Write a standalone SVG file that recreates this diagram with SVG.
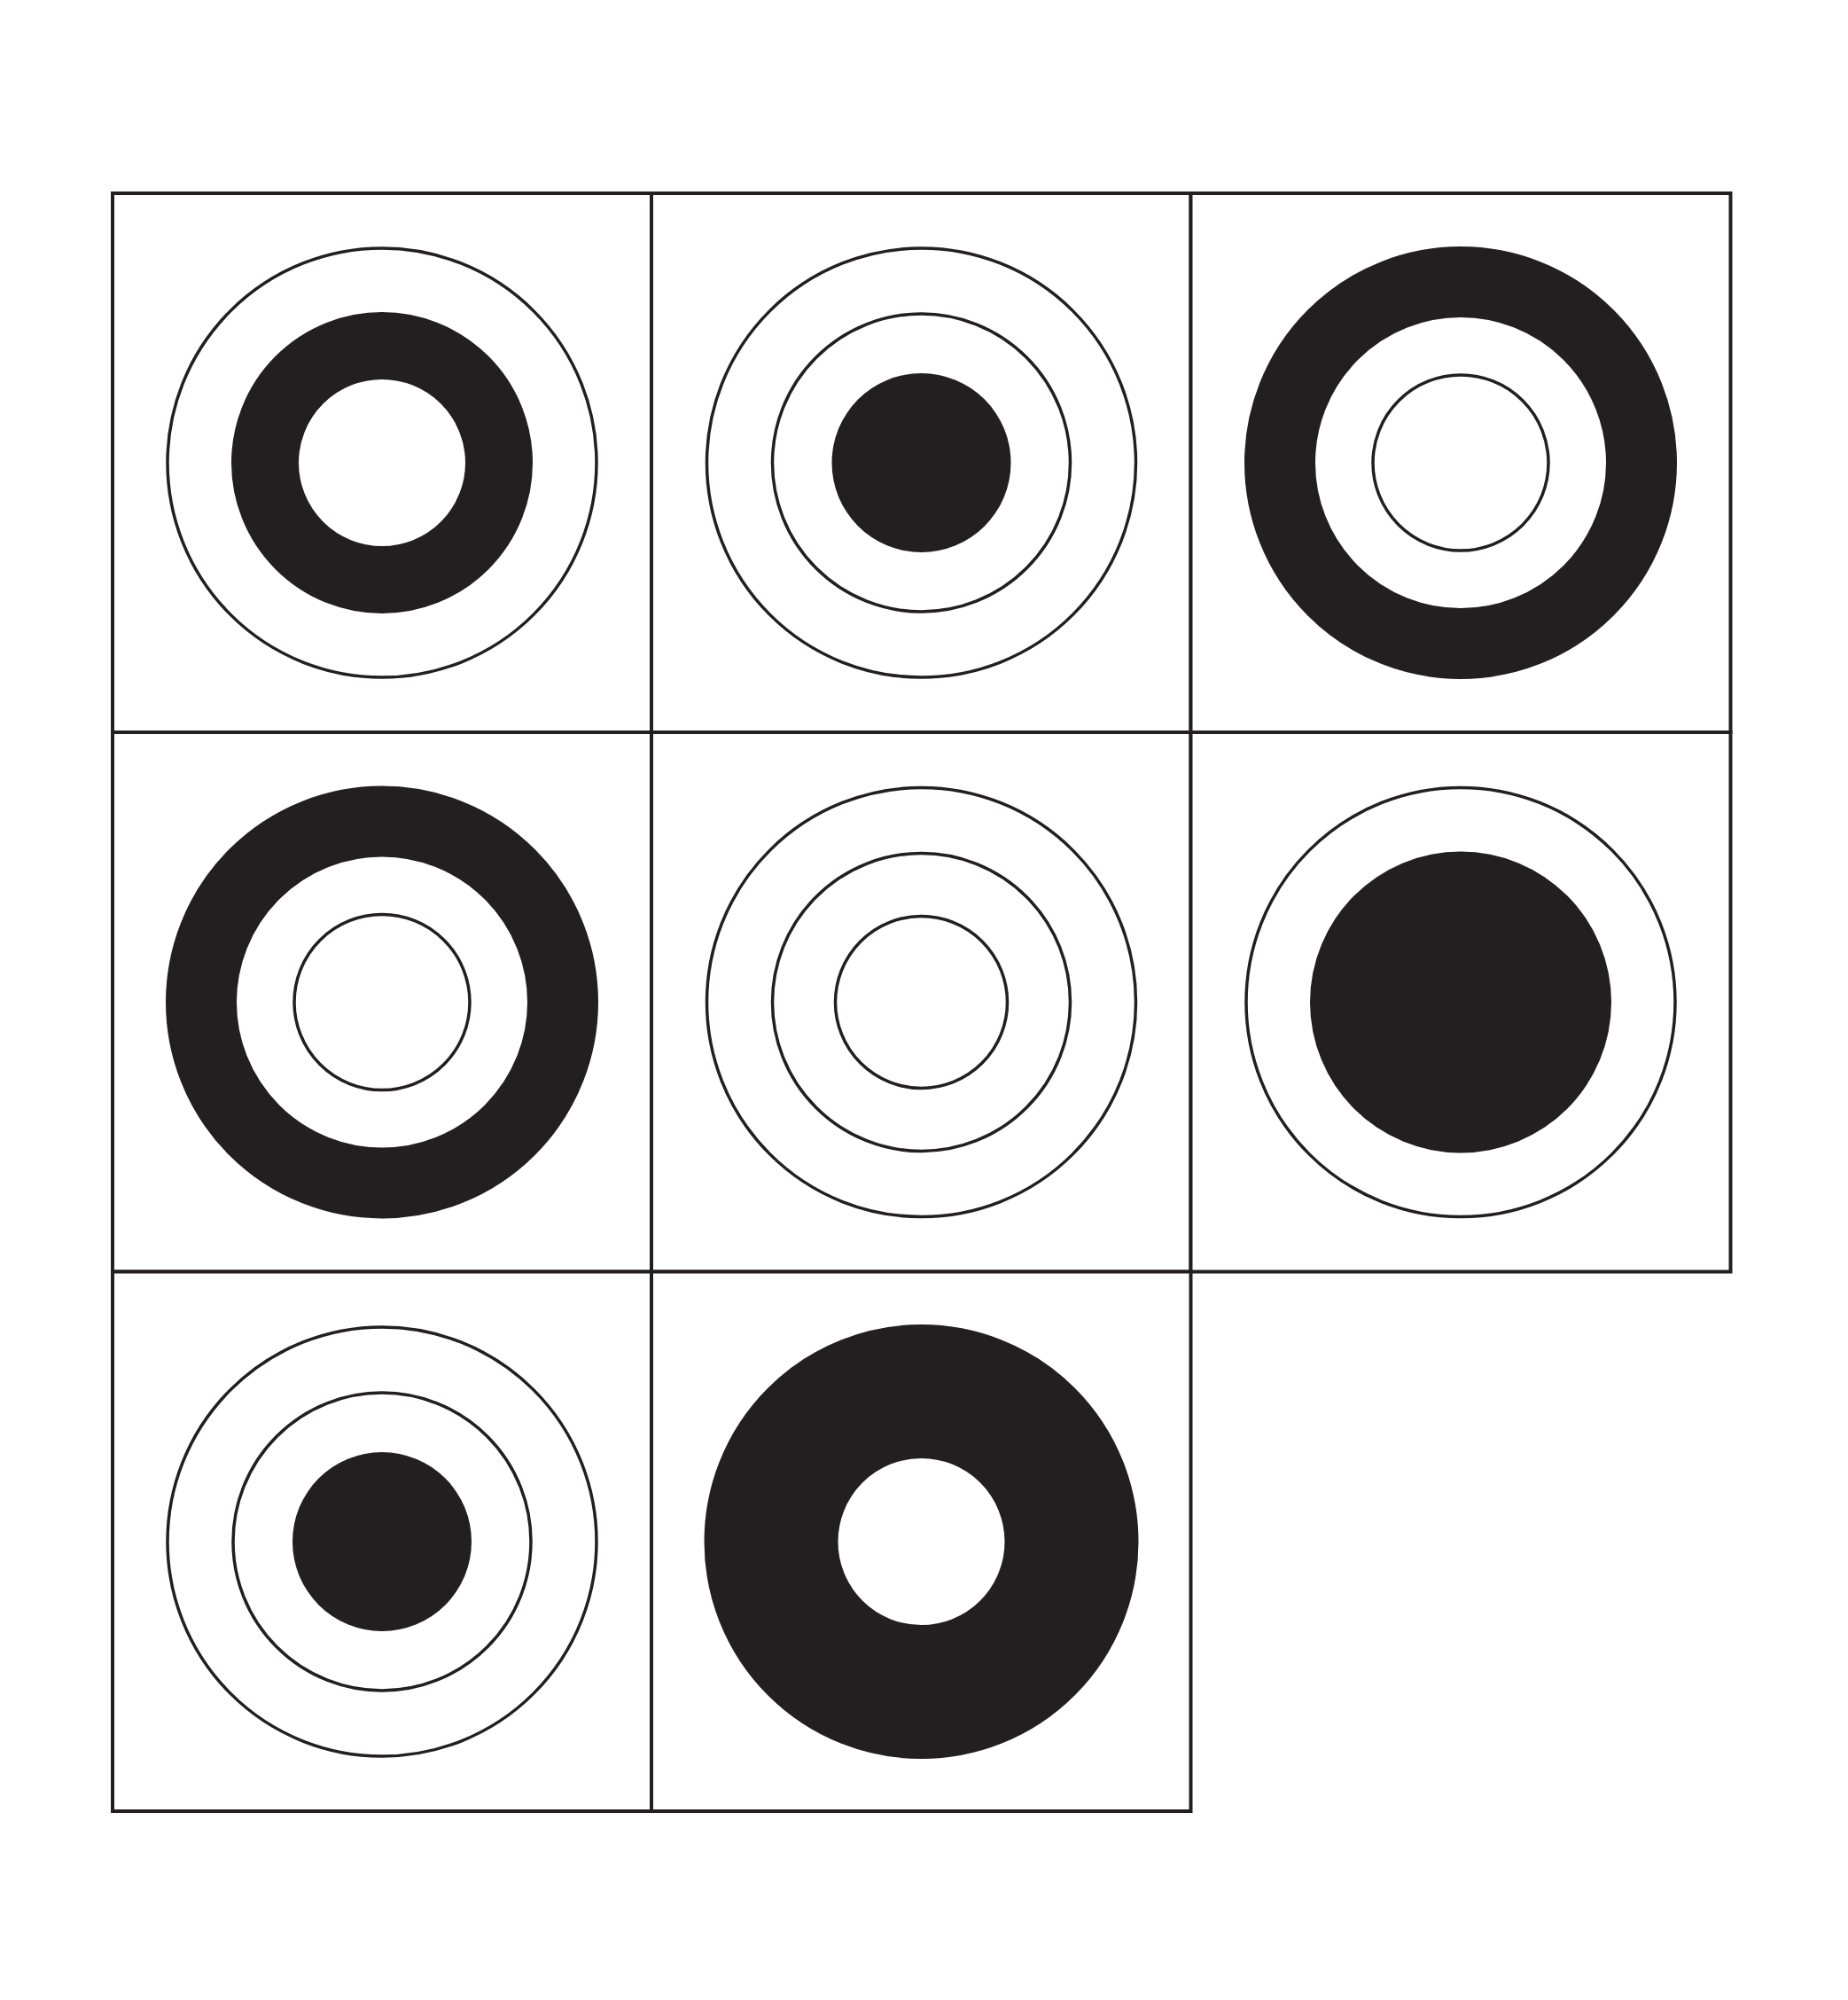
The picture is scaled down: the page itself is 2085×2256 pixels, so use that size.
<svg xmlns="http://www.w3.org/2000/svg" width="2085" height="2256" viewBox="0 0 2085 2256">
<style>
.cell{fill:#fff;stroke:#231f20;stroke-width:4}
.thin{fill:none;stroke:#231f20;stroke-width:3.5}
.dot{fill:#231f20}
.ring{fill:none;stroke:#231f20}
</style>
<rect width="2085" height="2256" fill="#fff"/>
<g id="grid">
<rect class="cell" x="127" y="218" width="608" height="608"/>
<rect class="cell" x="735" y="218" width="608.5" height="608"/>
<rect class="cell" x="1343.5" y="218" width="609" height="608"/>
<rect class="cell" x="127" y="826" width="608" height="608.5"/>
<rect class="cell" x="735" y="826" width="608.5" height="608.5"/>
<rect class="cell" x="1343.5" y="826" width="609" height="608.5"/>
<rect class="cell" x="127" y="1434.5" width="608" height="608.5"/>
<rect class="cell" x="735" y="1434.5" width="608.5" height="608.5"/>
</g>
<g id="cell1" transform="translate(431,522)">
<circle class="thin" r="242"/>
<circle class="ring" r="132" stroke-width="76"/>
</g>
<g id="cell2" transform="translate(1039.5,522)">
<circle class="thin" r="242"/>
<circle class="thin" r="168"/>
<circle class="dot" r="101"/>
</g>
<g id="cell3" transform="translate(1648,522)">
<circle class="ring" r="204" stroke-width="80"/>
<circle class="thin" r="99"/>
</g>
<g id="cell4" transform="translate(431,1130.5)">
<circle class="ring" r="204" stroke-width="80"/>
<circle class="thin" r="99"/>
</g>
<g id="cell5" transform="translate(1039.5,1130.5)">
<circle class="thin" r="242"/>
<circle class="thin" r="168"/>
<circle class="thin" r="97"/>
</g>
<g id="cell6" transform="translate(1648,1130.5)">
<circle class="thin" r="242"/>
<circle class="dot" r="170"/>
</g>
<g id="cell7" transform="translate(431,1739)">
<circle class="thin" r="242"/>
<circle class="thin" r="168"/>
<circle class="dot" r="101"/>
</g>
<g id="cell8" transform="translate(1039.5,1739)">
<circle class="ring" r="169.5" stroke-width="151"/>
</g>
</svg>
